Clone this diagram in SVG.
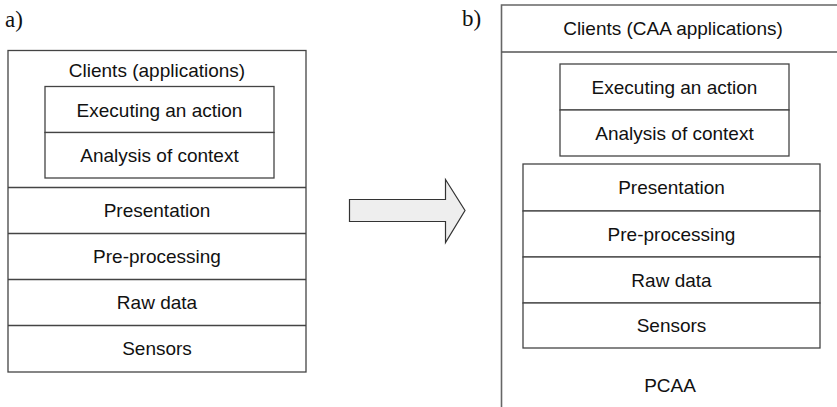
<svg xmlns="http://www.w3.org/2000/svg" width="837" height="407" viewBox="0 0 837 407">
<style>
.b{fill:#fff;stroke:#444;stroke-width:1.3}
.l{fill:none;stroke:#444;stroke-width:1.3}
.t{font-family:"Liberation Sans",Arial,sans-serif;font-size:19px;fill:#111;text-anchor:middle}
.lab{font-family:"Liberation Serif","Times New Roman",serif;font-size:23px;fill:#111}
</style>
<rect width="837" height="407" fill="#fff"/>
<text class="lab" x="5" y="27">a)</text>
<text class="lab" x="462" y="26">b)</text>
<g id="panelA">
<rect class="b" x="8" y="50.5" width="298" height="321.5"/>
<line class="l" x1="8" y1="187.5" x2="306" y2="187.5"/>
<line class="l" x1="8" y1="233.5" x2="306" y2="233.5"/>
<line class="l" x1="8" y1="279.5" x2="306" y2="279.5"/>
<line class="l" x1="8" y1="325.5" x2="306" y2="325.5"/>
<text class="t" x="157" y="77">Clients (applications)</text>
<g id="a-exec"><rect class="b" x="45" y="86.5" width="229" height="46"/><text class="t" x="159.5" y="116.5">Executing an action</text></g>
<g id="a-analysis"><rect class="b" x="45" y="132.5" width="229" height="45.5"/><text class="t" x="159.5" y="162">Analysis of context</text></g>
<g id="a-pres"><text class="t" x="157" y="217">Presentation</text></g>
<g id="a-pre"><text class="t" x="157" y="263">Pre-processing</text></g>
<g id="a-raw"><text class="t" x="157" y="309">Raw data</text></g>
<g id="a-sens"><text class="t" x="157" y="355">Sensors</text></g>
</g>
<g id="connectors">
<path d="M349.5,199.5 H445.5 V179.5 L465,210.5 L445.5,242.5 V221.5 H349.5 Z" fill="#eeeeee" stroke="#333" stroke-width="1.2" stroke-linejoin="miter"/>
</g>
<g id="panelB">
<path d="M501.5,410 V5 H845" fill="none" stroke="#666" stroke-width="1.6"/>
<line x1="501.5" y1="52" x2="845" y2="52" stroke="#555" stroke-width="1.5"/>
<text class="t" x="673" y="35">Clients (CAA applications)</text>
<g id="b-exec"><rect class="b" x="560" y="64" width="229" height="46"/><text class="t" x="674.5" y="94">Executing an action</text></g>
<g id="b-analysis"><rect class="b" x="560" y="110" width="229" height="46"/><text class="t" x="674.5" y="140">Analysis of context</text></g>
<g id="b-pres"><rect class="b" x="523" y="164" width="297" height="47"/><text class="t" x="671.5" y="194">Presentation</text></g>
<g id="b-pre"><rect class="b" x="523" y="211" width="297" height="46"/><text class="t" x="671.5" y="241">Pre-processing</text></g>
<g id="b-raw"><rect class="b" x="523" y="257" width="297" height="46"/><text class="t" x="671.5" y="287">Raw data</text></g>
<g id="b-sens"><rect class="b" x="523" y="303" width="297" height="45"/><text class="t" x="671.5" y="332">Sensors</text></g>
<text class="t" x="670" y="392">PCAA</text>
</g>
</svg>
